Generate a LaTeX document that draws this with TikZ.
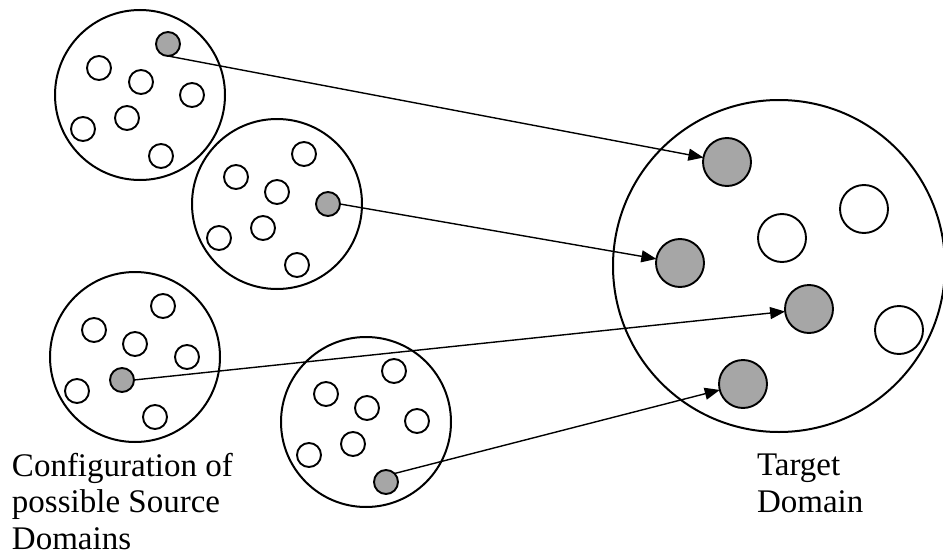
\documentclass[tikz,border=0pt]{standalone}
\usepackage{fontspec}
\setmainfont{Liberation Serif}
\usetikzlibrary{arrows.meta,positioning}
\definecolor{hitgray}{HTML}{A6A6A6}

\begin{document}
\begin{tikzpicture}[
  x=1pt, y=-1pt,
  every node/.style={inner sep=0pt, outer sep=0pt},
  srcdom/.style={circle, draw, line width=2pt, minimum size=170pt},
  tgtdom/.style={circle, draw, line width=2pt, minimum size=332pt},
  item/.style={circle, draw, line width=1.9pt, minimum size=24pt},
  hit/.style={item, fill=hitgray},
  bigitem/.style={circle, draw, line width=1.9pt, minimum size=48pt},
  bighit/.style={bigitem, fill=hitgray},
  maplink/.style={line width=1.4pt, -{Triangle[length=15pt,width=12pt]}},
  txtlabel/.style={font=\fontsize{33}{36.5}\selectfont, align=left, anchor=base west}
]
  \useasboundingbox (0,0) rectangle (943,554);

  % --- Source domains ---
  \node (srcA) [srcdom] at (140,95) {};
  \node (srcB) [srcdom] at (277,204) {};
  \node (srcC) [srcdom] at (135,357) {};
  \node (srcD) [srcdom] at (366,422) {};

  \foreach \px/\py [count=\i] in {99/68, 141/82, 192/95, 127/118, 83/129, 161/156}
    \node (a\i) [item] at (\px,\py) {};
  \node (hitA) [hit] at (168,44) {};

  \foreach \px/\py [count=\i] in {304/154, 236/177, 277/192, 263/228, 219/238, 297/265}
    \node (b\i) [item] at (\px,\py) {};
  \node (hitB) [hit] at (328,204) {};

  \foreach \px/\py [count=\i] in {163/306, 94/330, 135/344, 187/357, 77/391, 155/417}
    \node (c\i) [item] at (\px,\py) {};
  \node (hitC) [hit] at (122,380) {};

  \foreach \px/\py [count=\i] in {394/371, 326/394, 367/408, 417/421, 353/444, 309/455}
    \node (d\i) [item] at (\px,\py) {};
  \node (hitD) [hit] at (386,482) {};

  % --- Target domain ---
  \node (tgt) [tgtdom] at (779,266) {};
  \node (tA) [bighit] at (727,162) {};
  \node (tB) [bighit] at (680,263) {};
  \node (tC) [bighit] at (809,309) {};
  \node (tD) [bighit] at (743,384) {};
  \node (t1) [bigitem] at (864,209) {};
  \node (t2) [bigitem] at (782,238) {};
  \node (t3) [bigitem] at (899,330) {};

  % Zuordnungen
  \draw[maplink] (hitA.south) -- (tA);
  \draw[maplink] (hitB.east) -- (tB);
  \draw[maplink] (hitC.east) -- (tC);
  \draw[maplink] (hitD.north east) -- (tD);

  \node (srcLabel) [txtlabel] at (12,549) {Configuration of\\possible Source\\Domains};
  \node (tgtLabel) [txtlabel] at (757,512) {Target\\Domain};
\end{tikzpicture}
\end{document}
